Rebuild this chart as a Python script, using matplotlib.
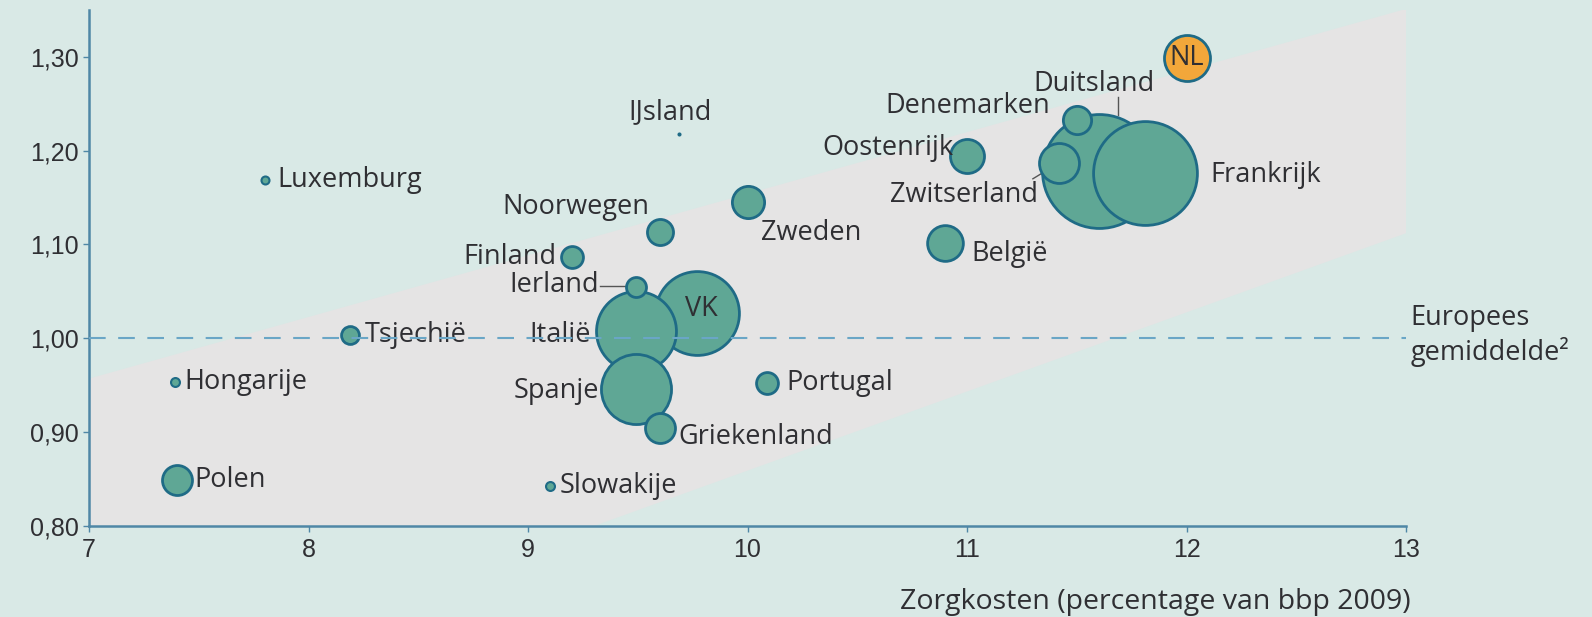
import matplotlib
matplotlib.use("Agg")
from matplotlib import pyplot as plt

# data
landen = ['Luxemburg', 'Hongarije', 'Polen', 'Tsjechië', 'Slowakije', 'Finland',
          'Ierland', 'Italië', 'VK', 'Spanje', 'Griekenland', 'Noorwegen',
          'IJsland', 'Zweden', 'Portugal', 'België', 'Oostenrijk', 'Denemarken',
          'Zwitserland', 'Duitsland', 'Frankrijk', 'NL']
zorgkosten = [7.80, 7.39, 7.40, 8.19, 9.10, 9.20, 9.49, 9.49, 9.77, 9.49, 9.60, 9.60,
              9.69, 10.00, 10.09, 10.90, 11.00, 11.50, 11.42, 11.60, 11.81, 12.00]
index = [1.169, 0.953, 0.849, 1.004, 0.843, 1.087, 1.055, 1.008, 1.027, 0.946, 0.904, 1.113,
         1.218, 1.145, 0.952, 1.102, 1.194, 1.233, 1.187, 1.178, 1.176, 1.299]
omvang = [0.16, 0.2, 2.25, 0.8, 0.2, 1.2, 1.0, 16.0, 17.6, 12.3, 2.25, 1.7,
          0.01, 2.6, 1.2, 3.2, 2.9, 2.0, 4.0, 32.5, 27.0, 5.3]
europees_gemiddelde = 1.0

xticks = [7, 8, 9, 10, 11, 12, 13]
yticks = [0.80, 0.90, 1.00, 1.10, 1.20, 1.30]
ytick_labels = ['0,80', '0,90', '1,00', '1,10', '1,20', '1,30']

bg = '#d9e9e6'
band_color = '#e5e4e4'
fill = '#5fa795'
edge = '#1f6b86'
tekst = '#2f2f33'
as_color = '#4f87a6'

fig = plt.figure(figsize=(15.92, 6.17), dpi=100, facecolor=bg)
ax = fig.add_axes([0.0559, 0.1475, 0.8273, 0.8365])
ax.set_facecolor(bg)
ax.set_xlim(7, 13)
ax.set_ylim(0.80, 1.35)

# grey band
ax.fill([7, 7, 13, 13, 9.30], [0.80, 0.957, 1.351, 1.112, 0.80],
        color=band_color, lw=0, zorder=0)

# big ones first so the small ones stay visible
order = sorted(range(len(landen)), key=lambda i: -omvang[i])
for i in order:
    kleur = '#f2a73a' if landen[i] == 'NL' else fill
    ax.scatter(zorgkosten[i], index[i], s=omvang[i] * 207, color=kleur,
               edgecolor=edge, linewidth=2 if omvang[i] > 0.5 else 1.5, zorder=3)

ax.axhline(europees_gemiddelde, color='#6aa6c6', lw=1.5, dashes=(8, 6), zorder=5)

font = ['Open Sans', 'DejaVu Sans']
fs = 19.5

labels = {
    'Luxemburg': (7.856, 1.169, 'left'),
    'Hongarije': (7.435, 0.953, 'left'),
    'Polen': (7.481, 0.849, 'left'),
    'Tsjechië': (8.258, 1.004, 'left'),
    'Slowakije': (9.142, 0.843, 'left'),
    'Finland': (9.128, 1.087, 'right'),
    'Ierland': (9.322, 1.057, 'right'),
    'Italië': (9.285, 1.003, 'right'),
    'Spanje': (9.322, 0.944, 'right'),
    'Griekenland': (9.683, 0.895, 'left'),
    'Noorwegen': (9.553, 1.14, 'right'),
    'IJsland': (9.646, 1.241, 'center'),
    'Zweden': (10.062, 1.112, 'left'),
    'Portugal': (10.178, 0.952, 'left'),
    'België': (11.019, 1.09, 'left'),
    'Oostenrijk': (10.94, 1.203, 'right'),
    'Denemarken': (11.38, 1.248, 'right'),
    'Duitsland': (11.30, 1.271, 'left'),
    'Zwitserland': (11.325, 1.153, 'right'),
    'Frankrijk': (12.11, 1.174, 'left'),
}
for naam, (lx, ly, ha) in labels.items():
    ax.text(lx, ly, naam, ha=ha, va='center', fontsize=fs, family=font,
            color=tekst, zorder=4)

i = landen.index('VK')
ax.text(zorgkosten[i] + 0.02, index[i] + 0.004, 'VK', ha='center', va='center',
        fontsize=fs, family=font, color=tekst, zorder=6)
i = landen.index('NL')
ax.text(zorgkosten[i], index[i], 'NL', ha='center', va='center',
        fontsize=fs, family=font, color=tekst, zorder=6)

# leader lines
ax.plot([9.33, 9.44], [1.056, 1.056], color='#555555', lw=1, zorder=2)
ax.plot([11.69, 11.69], [1.257, 1.238], color='#555555', lw=1, zorder=2)
ax.plot([11.30, 11.37], [1.17, 1.18], color='#555555', lw=1, zorder=2)

ax.text(13.02, 1.003, 'Europees\ngemiddelde²', ha='left', va='center',
        fontsize=fs, family=font, color=tekst, linespacing=1.2)

for s in ['top', 'right']:
    ax.spines[s].set_visible(False)
for s in ['left', 'bottom']:
    ax.spines[s].set_color(as_color)
    ax.spines[s].set_linewidth(1.8)

ax.set_xticks(xticks)
ax.set_yticks(yticks)
ax.set_yticklabels(ytick_labels)
ax.tick_params(colors=as_color, length=4, width=1, labelcolor=tekst, labelsize=18)
ax.tick_params(axis='x', pad=5)
for lab in ax.get_xticklabels() + ax.get_yticklabels():
    lab.set_family(['Liberation Sans Narrow', 'Liberation Sans', 'DejaVu Sans'])

fig.text(1411 / 1592, 1 - 602 / 617, 'Zorgkosten (percentage van bbp 2009)',
         ha='right', va='center', fontsize=fs + 1, family=font, color=tekst)

plt.savefig('out.png', dpi=100, facecolor=bg)
